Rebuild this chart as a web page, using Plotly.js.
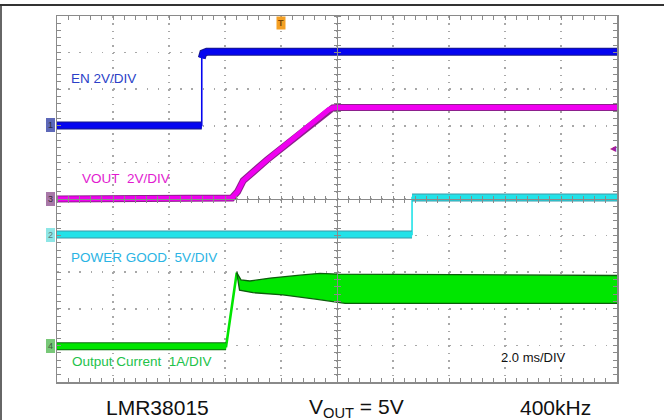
<!DOCTYPE html>
<html><head><meta charset="utf-8">
<script src="https://cdn.plot.ly/plotly-3.0.1.min.js"></script>
<style>html,body{margin:0;padding:0;background:#fff}#chart{width:664px;height:420px}</style>
</head><body><div id="chart"></div>
<script>
// Time in ms (2 ms/DIV, 10 divisions), level in graticule divisions (0 = bottom line, 10 = top)
const enTime   = [0, 5.17, 5.17, 5.22, 5.35, 20];
const enLevel  = [7.01, 7.01, 8.85, 8.98, 9.02, 9.02];

const voutTime  = [0, 5.9, 6.25, 6.45, 6.65, 7.5, 8.7, 9.5, 9.7, 9.85, 10.0, 20];
const voutLevel = [5.0, 5.0, 5.03, 5.2, 5.5, 6.07, 6.8, 7.33, 7.44, 7.49, 7.5, 7.5];

const pgTime  = [0, 12.68, 12.68, 20];
const pgLevel = [4.03, 4.03, 5.04, 5.04];

const iTime  = [0, 6.04, 6.42];
const iLevel = [0.98, 0.98, 2.99];
const iUpperTime  = [6.42, 6.57, 6.89, 7.61, 8.68, 9.39, 9.99, 20];
const iUpperLevel = [2.99, 2.79, 2.76, 2.84, 2.92, 2.97, 2.95, 2.91];
const iLowerTime  = [6.42, 6.52, 7.0, 8.07, 9.29, 10.0, 10.29, 20];
const iLowerLevel = [2.99, 2.51, 2.44, 2.38, 2.26, 2.17, 2.15, 2.15];

const channelLabels = ['EN 2V/DIV', 'VOUT\u00a0\u00a02V/DIV', 'POWER GOOD\u00a0\u00a05V/DIV', 'Output Current\u00a0\u00a01A/DIV'];
const bottomLabels = ['LMR38015', 'V<sub>OUT</sub> = 5V', '400kHz'];
const timebaseLabel = '2.0 ms/DIV';

const FONT = 'Liberation Sans, Arial, sans-serif';

function flatParts(t, v, maxSlope) {
  const x = [], y = [];
  for (let i = 0; i < t.length; i++) {
    if (i > 0) {
      const dt = t[i] - t[i - 1], dv = Math.abs(v[i] - v[i - 1]);
      if (dt === 0 || dv / dt > maxSlope) { x.push(null); y.push(null); }
    }
    x.push(t[i]); y.push(v[i]);
  }
  return {x, y};
}

function channel(t, v, bright, dark, w, thin) {
  const f = flatParts(t, v, 4);
  const base = {type: 'scatter', mode: 'lines', hoverinfo: 'skip', showlegend: false, connectgaps: false};
  return [
    Object.assign({}, base, {x: t, y: v, line: {color: bright, width: thin}}),
    Object.assign({}, base, {x: f.x, y: f.y, line: {color: dark, width: w + 2}}),
    Object.assign({}, base, {x: f.x, y: f.y, line: {color: bright, width: w}})
  ];
}

const data = [].concat(
  channel(enTime, enLevel, '#0505f0', '#18188a', 6, 1.6),
  channel(voutTime, voutLevel, '#f000f0', '#8c208c', 5, 1.6),
  channel(pgTime, pgLevel, '#22e2e8', '#3a9aa8', 6, 1.6),
  channel(iTime, iLevel, '#00e600', '#0b6a0b', 6, 2.6),
  [
    {type: 'scatter', mode: 'lines', x: iLowerTime, y: iLowerLevel, hoverinfo: 'skip', showlegend: false,
     line: {color: '#0b5e0b', width: 1.3}},
    {type: 'scatter', mode: 'lines', x: iUpperTime, y: iUpperLevel, hoverinfo: 'skip', showlegend: false,
     fill: 'tonexty', fillcolor: '#00e600', line: {color: '#0b5e0b', width: 1.3}},
    // empty traces that activate the centre graticule axes
    {type: 'scatter', x: [], y: [], xaxis: 'x2', yaxis: 'y', showlegend: false},
    {type: 'scatter', x: [], y: [], xaxis: 'x3', yaxis: 'y', showlegend: false},
    {type: 'scatter', x: [], y: [], xaxis: 'x', yaxis: 'y2', showlegend: false},
    {type: 'scatter', x: [], y: [], xaxis: 'x', yaxis: 'y3', showlegend: false}
  ]
);

const GRID = '#a8a8a8', AX = '#8a8a8a';
const centerX = side => ({
  overlaying: 'x', anchor: 'free', position: 0.5, side: side, range: [0, 20], autorange: false,
  showline: true, linecolor: AX, linewidth: 1, ticks: 'outside', ticklen: 3, tickcolor: AX, tickwidth: 1,
  dtick: 2, tick0: 0, minor: {dtick: 0.4, ticks: 'outside', ticklen: 3, tickcolor: AX, tickwidth: 1},
  showticklabels: false, showgrid: false, zeroline: false
});
const centerY = side => ({
  overlaying: 'y', anchor: 'free', position: 0.5, side: side, range: [0, 10], autorange: false,
  showline: true, linecolor: AX, linewidth: 1, ticks: 'outside', ticklen: 3, tickcolor: AX, tickwidth: 1,
  dtick: 1, tick0: 0, minor: {dtick: 0.2, ticks: 'outside', ticklen: 3, tickcolor: AX, tickwidth: 1},
  showticklabels: false, showgrid: false, zeroline: false
});

const lab = (text, x, y, color, size, xanchor) => ({
  text: text, xref: 'paper', yref: 'paper', x: x, y: y, xanchor: xanchor || 'left', yanchor: 'middle',
  showarrow: false, font: {family: FONT, size: size, color: color}
});
const chMarker = (text, y, bg, fg) => ({
  text: text, xref: 'paper', yref: 'y', x: -0.0125, y: y, xanchor: 'center', yanchor: 'middle',
  showarrow: false, bgcolor: bg, bordercolor: bg, borderpad: 1, borderwidth: 1,
  font: {family: FONT, size: 9, color: fg}
});

const layout = {
  width: 664, height: 420,
  margin: {l: 57, r: 47, t: 16, b: 38},
  paper_bgcolor: '#ffffff', plot_bgcolor: '#ffffff',
  showlegend: false,
  xaxis: {
    range: [0, 20], autorange: false, dtick: 2, tick0: 0,
    showgrid: true, gridcolor: GRID, gridwidth: 1.5, griddash: '1.5px,5.82px',
    showline: true, linecolor: AX, linewidth: 1.5, mirror: 'allticks',
    ticks: 'inside', ticklen: 4, tickcolor: AX, tickwidth: 1,
    minor: {dtick: 0.4, ticks: 'inside', ticklen: 4, tickcolor: AX, tickwidth: 1, showgrid: false},
    showticklabels: false, zeroline: false
  },
  yaxis: {
    range: [0, 10], autorange: false, dtick: 1, tick0: 0,
    showgrid: true, gridcolor: GRID, gridwidth: 1.5, griddash: '1.5px,9.7px',
    showline: true, linecolor: AX, linewidth: 1.5, mirror: 'allticks',
    ticks: 'inside', ticklen: 4, tickcolor: AX, tickwidth: 1,
    minor: {dtick: 0.2, ticks: 'inside', ticklen: 4, tickcolor: AX, tickwidth: 1, showgrid: false},
    showticklabels: false, zeroline: false
  },
  xaxis2: centerX('bottom'), xaxis3: centerX('top'),
  yaxis2: centerY('left'), yaxis3: centerY('right'),
  shapes: [
    {type: 'line', xref: 'paper', yref: 'paper', x0: -0.102, x1: 1.09, y0: 1.030, y1: 1.030, line: {color: '#333333', width: 2}},
    {type: 'line', xref: 'paper', yref: 'paper', x0: -0.1, x1: -0.1, y0: 1.032, y1: -0.11, line: {color: '#333333', width: 1.5}}
  ],
  annotations: [
    lab(channelLabels[0], 0.022, 0.828, '#2b3fc8', 13.5),
    lab(channelLabels[1], 0.041, 0.556, '#e21ad0', 13.5),
    lab(channelLabels[2], 0.021, 0.339, '#2ab4e4', 13.5),
    lab(channelLabels[3], 0.023, 0.055, '#22c24a', 13.5),
    lab(timebaseLabel, 0.789, 0.068, '#111111', 13),
    lab(bottomLabels[0], 0.1786, -0.071, '#111111', 21, 'center'),
    lab(bottomLabels[1], 0.5357, -0.071, '#111111', 21, 'center'),
    lab(bottomLabels[2], 0.891, -0.071, '#111111', 21, 'center'),
    chMarker('1', 7.01, '#5d68b8', '#2a2a40'),
    chMarker('3', 5.0, '#a878a8', '#3a2a3a'),
    chMarker('2', 4.03, '#8ee6e6', '#5a7a7a'),
    chMarker('4', 0.98, '#78c878', '#3a5a3a'),
    {text: '<b>T</b>', xref: 'x', yref: 'paper', x: 8, y: 0.98, xanchor: 'center', yanchor: 'middle',
     showarrow: false, bgcolor: '#f4a024', borderpad: 1, font: {family: FONT, size: 9, color: '#7a4500'}},
    {text: '\u25C0', xref: 'paper', yref: 'paper', x: 0.993, y: 0.639, xanchor: 'center', yanchor: 'middle',
     showarrow: false, font: {family: 'DejaVu Sans', size: 8, color: '#a020a0'}}
  ]
};

Plotly.newPlot('chart', data, layout, {displayModeBar: false, staticPlot: true});
</script>
</body></html>
